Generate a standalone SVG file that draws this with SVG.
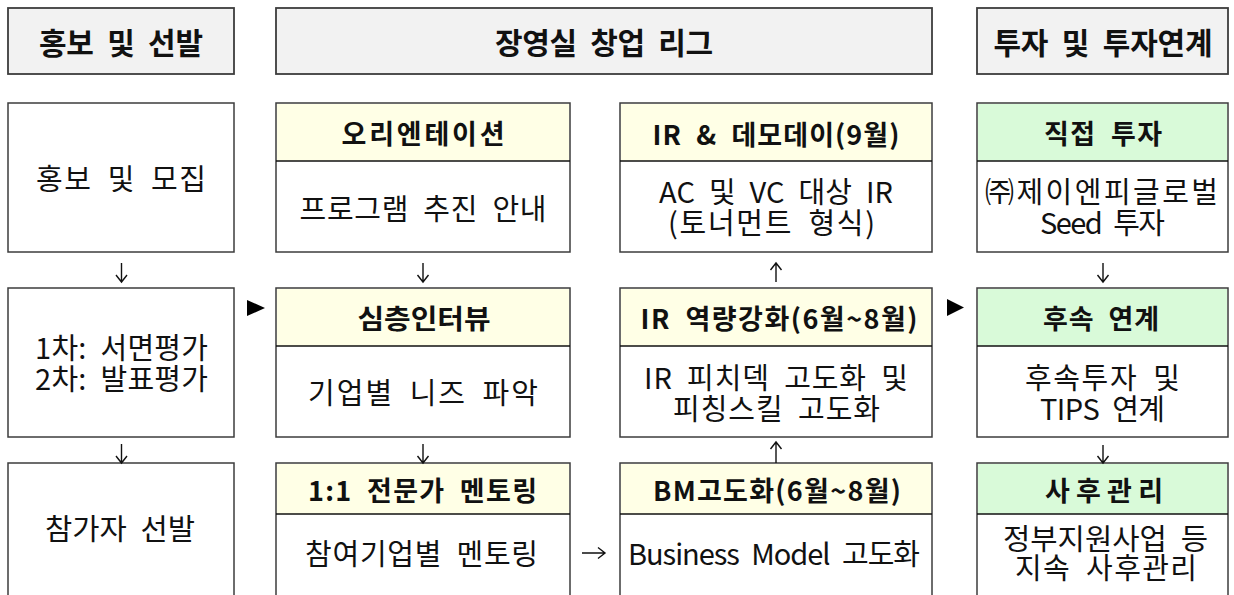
<svg xmlns="http://www.w3.org/2000/svg" width="1234" height="595" viewBox="0 0 1234 595">
<style>
text{font-family:"Noto Sans CJK KR","Noto Sans",sans-serif;font-size:29px;fill:#111;text-anchor:middle;dominant-baseline:central;word-spacing:7px}
.b{font-weight:bold;font-size:27px}
.t{font-size:30px}
.box{fill:#fff;stroke:#3c3c3c;stroke-width:1.5}
.hd{fill:#f2f2f2;stroke:#3c3c3c;stroke-width:1.8}
.y{fill:#ffffe6}
.g{fill:#d9fad9}
.div{stroke:#111;stroke-width:1.3}
.arr{fill:none;stroke:#111;stroke-width:1.4}
.tri{fill:#000}
</style>
<g id="head-promo"><rect class="hd" x="8" y="8" width="226" height="66"/><text class="b t" x="121" y="41" textLength="164" lengthAdjust="spacing">홍보 및 선발</text></g>
<g id="head-league"><rect class="hd" x="276" y="8" width="656" height="66"/><text class="b t" x="604" y="41" textLength="218" lengthAdjust="spacing">장영실 창업 리그</text></g>
<g id="head-invest"><rect class="hd" x="977" y="8" width="251" height="66"/><text class="b t" x="1103" y="41" textLength="219" lengthAdjust="spacing">투자 및 투자연계</text></g>

<g id="n-recruit"><rect class="box" x="8" y="103" width="226" height="149"/><text x="121" y="177" textLength="170" lengthAdjust="spacing">홍보 및 모집</text></g>
<g id="n-eval"><rect class="box" x="8" y="288" width="226" height="149"/><text x="121.5" y="346" textLength="173" lengthAdjust="spacing">1차: 서면평가</text><text x="121.5" y="377" textLength="173" lengthAdjust="spacing">2차: 발표평가</text></g>
<g id="n-select"><rect class="box" x="8" y="463" width="226" height="150"/><text x="120" y="527" textLength="150" lengthAdjust="spacingAndGlyphs">참가자 선발</text></g>

<g id="n-orient"><rect class="box" x="276" y="103" width="294" height="149"/><rect class="y" x="277" y="104" width="292" height="57"/><line class="div" x1="276" y1="161" x2="570" y2="161"/><text class="b" x="423" y="132" textLength="163" lengthAdjust="spacing">오리엔테이션</text><text x="423" y="206.5" textLength="247" lengthAdjust="spacing">프로그램 추진 안내</text></g>
<g id="n-interview"><rect class="box" x="276" y="288" width="294" height="149"/><rect class="y" x="277" y="289" width="292" height="57"/><line class="div" x1="276" y1="346" x2="570" y2="346"/><text class="b" x="424" y="317" textLength="133" lengthAdjust="spacingAndGlyphs">심층인터뷰</text><text x="423" y="391" textLength="230" lengthAdjust="spacing">기업별 니즈 파악</text></g>
<g id="n-mentor"><rect class="box" x="276" y="463" width="294" height="150"/><rect class="y" x="277" y="464" width="292" height="50"/><line class="div" x1="276" y1="514" x2="570" y2="514"/><text class="b" x="422.5" y="489" textLength="229" lengthAdjust="spacing">1:1 전문가 멘토링</text><text x="421.5" y="552" textLength="233" lengthAdjust="spacing">참여기업별 멘토링</text></g>

<g id="n-demoday"><rect class="box" x="620" y="103" width="312" height="149"/><rect class="y" x="621" y="104" width="310" height="57"/><line class="div" x1="620" y1="161" x2="932" y2="161"/><text class="b" x="776" y="133" textLength="247" lengthAdjust="spacing">IR &amp; 데모데이(9월)</text><text x="776" y="190" textLength="234" lengthAdjust="spacing">AC 및 VC 대상 IR</text><text x="771.5" y="221" textLength="207" lengthAdjust="spacing">(토너먼트 형식)</text></g>
<g id="n-ir"><rect class="box" x="620" y="288" width="312" height="149"/><rect class="y" x="621" y="289" width="310" height="57"/><line class="div" x1="620" y1="346" x2="932" y2="346"/><text class="b" x="779" y="317" textLength="277" lengthAdjust="spacing">IR 역량강화(6월~8월)</text><text x="776" y="376" textLength="264" lengthAdjust="spacing">IR 피치덱 고도화 및</text><text x="776.5" y="407" textLength="207" lengthAdjust="spacing">피칭스킬 고도화</text></g>
<g id="n-bm"><rect class="box" x="620" y="463" width="312" height="150"/><rect class="y" x="621" y="464" width="310" height="50"/><line class="div" x1="620" y1="514" x2="932" y2="514"/><text class="b" x="777" y="489" textLength="248" lengthAdjust="spacing">BM고도화(6월~8월)</text><text x="774" y="552" textLength="292" lengthAdjust="spacing">Business Model 고도화</text></g>

<g id="n-direct"><rect class="box" x="977" y="103" width="251" height="149"/><rect class="g" x="978" y="104" width="249" height="57"/><line class="div" x1="977" y1="161" x2="1228" y2="161"/><text class="b" x="1103" y="132" textLength="118" lengthAdjust="spacing">직접 투자</text><text x="1101.5" y="190" textLength="233" lengthAdjust="spacing">㈜제이엔피글로벌</text><text x="1102.5" y="221" textLength="125" lengthAdjust="spacing">Seed 투자</text></g>
<g id="n-follow"><rect class="box" x="977" y="288" width="251" height="149"/><rect class="g" x="978" y="289" width="249" height="57"/><line class="div" x1="977" y1="346" x2="1228" y2="346"/><text class="b" x="1101" y="317" textLength="116" lengthAdjust="spacing">후속 연계</text><text x="1102.5" y="376" textLength="155" lengthAdjust="spacing">후속투자 및</text><text x="1102.5" y="407" textLength="125" lengthAdjust="spacing">TIPS 연계</text></g>
<g id="n-after"><rect class="box" x="977" y="463" width="251" height="150"/><rect class="g" x="978" y="464" width="249" height="50"/><line class="div" x1="977" y1="514" x2="1228" y2="514"/><text class="b" x="1104" y="489" textLength="118" lengthAdjust="spacing">사후관리</text><text x="1105.5" y="537" textLength="205" lengthAdjust="spacingAndGlyphs">정부지원사업 등</text><text x="1106" y="566" textLength="182" lengthAdjust="spacing">지속 사후관리</text></g>

<g id="connectors">
<path class="arr" d="M121.5 263V282M116 275L121.5 282L127 275"/>
<path class="arr" d="M423 263V282M417.5 275L423 282L428.5 275"/>
<path class="arr" d="M776 263V282M770.5 270L776 263L781.5 270"/>
<path class="arr" d="M1103 263V282M1097.5 275L1103 282L1108.5 275"/>
<path class="arr" d="M121.5 444V463M116 456L121.5 463L127 456"/>
<path class="arr" d="M423 444V463M417.5 456L423 463L428.5 456"/>
<path class="arr" d="M776 442V463M770.5 449L776 442L781.5 449"/>
<path class="arr" d="M1103 445V463M1097.5 456L1103 463L1108.5 456"/>
<path class="arr" d="M582 553H605M598 547.5L605 553L598 558.5"/>
<polygon class="tri" points="247,300 265,308 247,316"/>
<polygon class="tri" points="947,299 964,307.5 947,316"/>
</g>
</svg>
